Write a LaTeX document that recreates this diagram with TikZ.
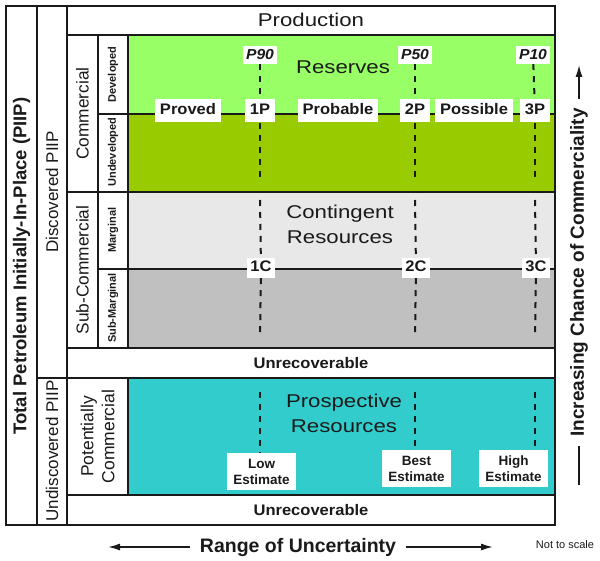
\documentclass[tikz,border=0pt]{standalone}
\usepackage{fontspec}
\setmainfont{Liberation Sans}
\newfontfamily\widefont[FakeStretch=1.2]{Liberation Sans}
\newfontfamily\labfont[FakeStretch=1.08]{Liberation Sans}
\usetikzlibrary{arrows.meta}
\definecolor{devgreen}{HTML}{99FF66}
\definecolor{undevgreen}{HTML}{99CC00}
\definecolor{margray}{HTML}{E8E8E8}
\definecolor{submargray}{HTML}{C0C0C0}
\definecolor{prosteal}{HTML}{33CCCC}
\definecolor{ink}{HTML}{1A1A1A}
\newcommand{\fs}[2]{\fontsize{#1}{#2}\selectfont}
\tikzset{
	cell/.style={draw=ink,line width=1.6pt},
	split/.style={draw=ink,line width=1.1pt},
	dashline/.style={draw=ink,line width=2pt,dash pattern=on 6pt off 6pt},
	arr/.style={draw=ink,line width=1.5pt,-{Latex[length=12pt,width=7pt]}},
	side/.style={rotate=90,text=ink,inner sep=0pt},
	tag/.style={fill=white,text=ink,inner xsep=5pt,inner ysep=3.5pt,text height=12pt,text depth=4pt,font=\labfont\bfseries\fs{15.3}{18}},
	ptag/.style={fill=white,text=ink,inner xsep=3.5pt,inner ysep=3pt,text height=11pt,text depth=1pt,font=\labfont\bfseries\itshape\fs{14.5}{17}},
	ctag/.style={fill=white,text=ink,inner xsep=3.5pt,inner ysep=3pt,text height=11pt,text depth=3pt,font=\labfont\bfseries\fs{15.3}{18}},
	etag/.style={fill=white,text=ink,align=center,minimum width=69pt,minimum height=37pt,inner sep=0pt,font=\bfseries\fs{13.5}{16}},
	big/.style={text=ink,align=center,font=\widefont\fs{18.5}{25}}
}
\begin{document}
\begin{tikzpicture}[x=1pt,y=-1pt]
	\useasboundingbox (0,0) rectangle (600,561);
	% coloured classes
	\fill[devgreen] (129,36) rectangle (554,114);
	\fill[undevgreen] (129,114) rectangle (554,191);
	\fill[margray] (129,193) rectangle (554,269);
	\fill[submargray] (129,269) rectangle (554,347);
	\fill[prosteal] (129,379) rectangle (554,494);
	% frame
	\draw[cell] (6,6) rectangle (555,525);
	\draw[cell] (37,6) -- (37,525);
	\draw[cell] (67,6) -- (67,525);
	\draw[cell] (67,35) -- (555,35);
	\draw[cell] (67,192) -- (555,192);
	\draw[cell] (67,348) -- (555,348);
	\draw[cell] (37,378) -- (555,378);
	\draw[cell] (67,495) -- (555,495);
	\draw[cell] (98,35) -- (98,348);
	\draw[cell] (128,35) -- (128,348);
	\draw[cell] (128,378) -- (128,495);
	\draw[split] (98,114) -- (555,114);
	\draw[split] (98,269) -- (555,269);
	% side headings
	\node[side,font=\bfseries\fs{18.5}{22}] (piip) at (21.5,266) {Total Petroleum Initially-In-Place (PIIP)};
	\node[side,font=\fs{17}{20}] (disc) at (52,192) {Discovered PIIP};
	\node[side,font=\fs{17}{20}] (undisc) at (52,451) {Undiscovered PIIP};
	\node[side,font=\fs{17.3}{20}] (comm) at (82.5,113.5) {Commercial};
	\node[side,font=\fs{17.3}{20}] (subcomm) at (82.5,270) {Sub-Commercial};
	\node[side,font=\bfseries\fs{11}{13}] (dev) at (113,74.5) {Developed};
	\node[side,font=\bfseries\fs{11}{13}] (undev) at (113,152) {Undeveloped};
	\node[side,font=\bfseries\fs{11}{13}] (marg) at (113,230) {Marginal};
	\node[side,font=\bfseries\fs{11}{13}] (submarg) at (113,308) {Sub-Marginal};
	\node[side,align=center,font=\fs{17.5}{21}] (potcomm) at (97.5,436.5) {Potentially\\Commercial};
	% class names
	\node[big] (prod) at (311,20) {Production};
	\node[big] (resv) at (343,67) {Reserves};
	\node[big] (cont) at (340,224) {Contingent\\Resources};
	\node[big] (prosp) at (344,413) {Prospective\\Resources};
	\node[text=ink,font=\labfont\bfseries\fs{15.3}{18}] (unrec1) at (311,363) {Unrecoverable};
	\node[text=ink,font=\labfont\bfseries\fs{15.3}{18}] (unrec2) at (311,510) {Unrecoverable};
	% reserve categories
	\node[tag] (proved) at (188,111) {Proved};
	\node[tag] (probable) at (338,111) {Probable};
	\node[tag] (possible) at (474,111) {Possible};
	\node[tag] (res1) at (260,111) {1P};
	\node[tag] (res2) at (415,111) {2P};
	\node[tag] (res3) at (535,111) {3P};
	\node[ptag] (pct1) at (260,55) {P90};
	\node[ptag] (pct2) at (415,55) {P50};
	\node[ptag] (pct3) at (533,55) {P10};
	\node[ctag] (con1) at (261,268) {1C};
	\node[ctag] (con2) at (416,268) {2C};
	\node[ctag] (con3) at (536,268) {3C};
	\node[etag] (est1) at (261.5,471.5) {Low\\Estimate};
	\node[etag] (est2) at (416.5,468.5) {Best\\Estimate};
	\node[etag] (est3) at (513.5,468.5) {High\\Estimate};
	% uncertainty lines
	\foreach \i/\x in {1/260,2/415,3/535} {
		\coordinate (rtop\i) at (\x,182);
		\coordinate (cbot\i) at (\x,200);
		\coordinate (ctop\i) at (\x,338);
		\coordinate (ebot\i) at (\x,392);
		\draw[dashline] (pct\i) -- (res\i);
		\draw[dashline] (res\i) -- (rtop\i);
		\draw[dashline] (cbot\i) -- (con\i);
		\draw[dashline] (con\i) -- (ctop\i);
		\draw[dashline] (ebot\i) -- (ebot\i |- est\i.north);
	}
	% axes
	\node[text=ink,font=\bfseries\fs{19.5}{22},inner xsep=10pt] (range) at (298,547) {Range of Uncertainty};
	\coordinate (rangeL) at (108,547);
	\coordinate (rangeR) at (493,547);
	\draw[arr] (range) -- (rangeL);
	\draw[arr] (range) -- (rangeR);
	\node[rotate=90,text=ink,font=\bfseries\fs{19}{22},inner xsep=9pt] (chance) at (579,272.5) {Increasing Chance of Commerciality};
	\coordinate (chanceT) at (579,65);
	\coordinate (chanceB) at (579,485);
	\draw[arr] (chance) -- (chanceT);
	\draw[draw=ink,line width=1.5pt] (chance) -- (chanceB);
	\node[text=ink,font=\fs{11}{13}] (nts) at (565,545) {Not to scale};
\end{tikzpicture}
\end{document}
